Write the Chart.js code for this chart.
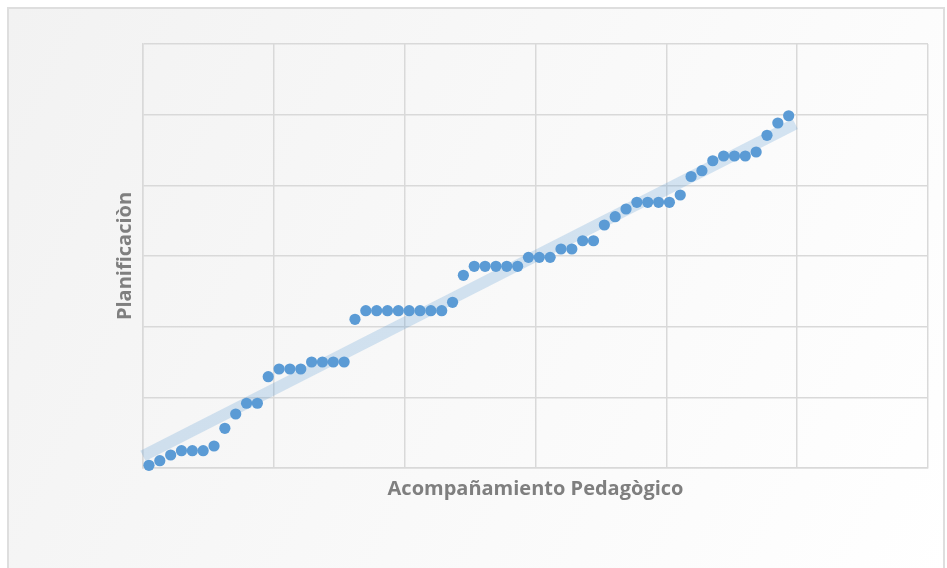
<!DOCTYPE html>
<html>
<head>
<meta charset="utf-8">
<script src="https://cdn.jsdelivr.net/npm/chart.js@4"></script>
<style>
  html, body { margin: 0; padding: 0; background: #ffffff; }
  #frame {
    position: absolute; left: 7px; top: 7px; width: 934px; height: 580px;
    border: 2px solid #dedede;
    background: linear-gradient(115deg, #f2f2f2 0%, #f8f8f8 45%, #ffffff 100%);
  }
  #chart { position: absolute; left: 0; top: 0; }
</style>
</head>
<body>
<div id="frame"></div>
<canvas id="chart" width="947" height="568"></canvas>
<script>
// ===============================
// DATA
// ===============================
const acompanamiento = [
  1, 2, 3, 4, 5, 6, 7, 8, 9, 10,
  11, 12, 13, 14, 15, 16, 17, 18, 19, 20,
  21, 22, 23, 24, 25, 26, 27, 28, 29, 30,
  31, 32, 33, 34, 35, 36, 37, 38, 39, 40,
  41, 42, 43, 44, 45, 46, 47, 48, 49, 50,
  51, 52, 53, 54, 55, 56, 57, 58, 59, 60
];
const planificacion = [
  0.38, 1.03, 1.84, 2.45, 2.45, 2.45, 3.11, 5.62, 7.64, 9.16,
  9.16, 12.92, 14.01, 14.01, 14.01, 15.0, 15.0, 15.0, 15.0, 21.04,
  22.26, 22.26, 22.26, 22.26, 22.26, 22.26, 22.26, 22.26, 23.45, 27.27,
  28.54, 28.54, 28.54, 28.54, 28.54, 29.81, 29.81, 29.81, 30.99, 30.99,
  32.16, 32.16, 34.39, 35.56, 36.65, 37.6, 37.6, 37.6, 37.6, 38.63,
  41.25, 42.07, 43.48, 44.15, 44.15, 44.15, 44.72, 47.08, 48.82, 49.85
];
// linear trend line end points
const trendX = [0.45, 60.6];
const trendY = [1.7, 48.7];

const xTitle = "Acompañamiento Pedagògico";
const yTitle = "Planificaciòn";

// ===============================
// AXIS RANGE
// ===============================
const X_MIN = 0.45, X_MAX = 72.85, X_STEPS = 6;
const Y_MIN = 0, Y_MAX = 60, Y_STEP = 10;

const BLUE = "#5b9bd5";
const GRID = "#d9d9d9";
const TITLE_FONT = { family: "'Open Sans', sans-serif", size: 20, weight: "bold" };

const points = acompanamiento.map((x, i) => ({ x, y: planificacion[i] }));
const trend = trendX.map((x, i) => ({ x, y: trendY[i] }));

new Chart(document.getElementById("chart"), {
  type: "scatter",
  data: {
    datasets: [
      {
        label: "Planificaciòn",
        data: points,
        backgroundColor: BLUE,
        borderWidth: 0,
        pointRadius: 5.6,
        pointHoverRadius: 5.6,
        clip: false,
        order: 0
      },
      {
        type: "line",
        label: "Tendencia",
        data: trend,
        borderColor: "rgba(91,155,213,0.25)",
        borderWidth: 11.5,
        borderCapStyle: "butt",
        pointRadius: 0,
        fill: false,
        clip: false,
        order: 1
      }
    ]
  },
  options: {
    responsive: false,
    animation: false,
    devicePixelRatio: 1,
    layout: { padding: { left: 0, top: 44, right: 19, bottom: 0 } },
    plugins: {
      legend: { display: false },
      tooltip: { enabled: false }
    },
    scales: {
      x: {
        type: "linear",
        min: X_MIN,
        max: X_MAX,
        afterBuildTicks: axis => {
          const step = (X_MAX - X_MIN) / X_STEPS;
          axis.ticks = Array.from({ length: X_STEPS + 1 }, (_, i) => ({ value: X_MIN + i * step }));
        },
        afterFit: axis => { axis.height = 100; },
        ticks: { display: false },
        grid: { color: GRID, lineWidth: 1.5, drawTicks: false },
        border: { color: GRID, width: 1.5 },
        title: {
          display: true,
          text: xTitle,
          color: "#7f7f7f",
          font: TITLE_FONT,
          padding: { top: 0, bottom: 67 }
        }
      },
      y: {
        type: "linear",
        min: Y_MIN,
        max: Y_MAX,
        ticks: { display: false, stepSize: Y_STEP },
        afterFit: axis => { axis.width = 143; },
        grid: { color: GRID, lineWidth: 1.5, drawTicks: false },
        border: { color: GRID, width: 1.5 },
        title: {
          display: true,
          text: yTitle,
          color: "#7f7f7f",
          font: TITLE_FONT,
          padding: { top: 113, bottom: 0 }
        }
      }
    }
  }
});
</script>
</body>
</html>
